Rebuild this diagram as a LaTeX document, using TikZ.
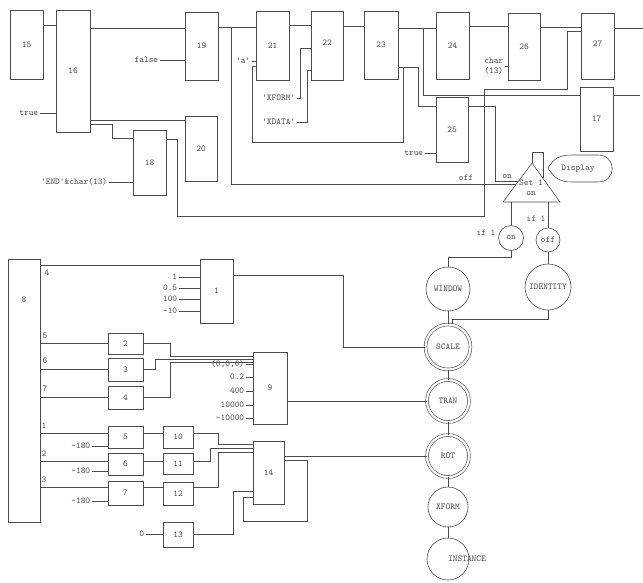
\documentclass[tikz,border=0pt]{standalone}
\usepackage{tikz}
\begin{document}
\begin{tikzpicture}[x=1pt,y=-1pt,line width=0.6pt,color=black!70,
  font=\fontsize{9}{10}\selectfont\ttfamily,
  blk/.style={draw,rectangle,inner sep=0pt},
  cst/.style={inner sep=1.5pt},
  st/.style={draw,circle,inner sep=0pt},
  dst/.style={st,double,double distance=2.2pt}]
\useasboundingbox (0,0) rectangle (643,582);

\node[blk,minimum width=33,minimum height=69] (b15) at (26.5,44.5) {15};
\node[blk,minimum width=34,minimum height=122] (b16) at (73,71) {16};
\node[blk,minimum width=33,minimum height=68] (b19) at (201.5,46) {19};
\node[blk,minimum width=32,minimum height=65] (b20) at (201,148.5) {20};
\node[blk,minimum width=33,minimum height=65] (b18) at (149.5,162.5) {18};
\node[blk,minimum width=33,minimum height=69] (b21) at (272.5,45.5) {21};
\node[blk,minimum width=32,minimum height=69] (b22) at (327,45.5) {\raisebox{6pt}{22}};
\node[blk,minimum width=34,minimum height=68] (b23) at (381,45) {23};
\node[blk,minimum width=33,minimum height=67] (b24) at (452.5,45.5) {24};
\node[blk,minimum width=32,minimum height=67] (b26) at (524,46.5) {26};
\node[blk,minimum width=33,minimum height=66] (b27) at (597.5,46) {\raisebox{4pt}{27}};
\node[blk,minimum width=33,minimum height=64] (b17) at (596.5,119) {17};
\node[blk,minimum width=32,minimum height=65] (b25) at (452,129.5) {25};

\node[cst,anchor=east] (ktrue) at (40,113) {true};
\node[cst,anchor=east] (kfalse) at (160,60) {false};
\node[cst,anchor=east] (kend) at (109,182) {\textquotesingle END\textquotesingle\&char(13)};
\node[cst,anchor=east] (ka) at (252,61) {\textquotesingle a\textquotesingle};
\node[cst,anchor=east] (kxform) at (297,98) {\textquotesingle XFORM\textquotesingle};
\node[cst,anchor=east] (kxdata) at (297,122) {\textquotesingle XDATA\textquotesingle};
\node[cst,anchor=east,align=right] (kchar) at (505,66) {char\\(13)};
\node[cst,anchor=east] (ktrue2) at (425,153) {true};

\draw (532,163) -- (503,202) -- (560,202) -- cycle;
\draw (532,163) -- (532,152) -- (543,152) -- (543,178);
\draw (548,168) .. controls (554,158) and (560,155) .. (572,155) -- (598,155)
  .. controls (617,155) and (617,182) .. (598,182) -- (572,182)
  .. controls (560,182) and (554,178) .. (548,168);
\node (disp) at (578,169) {Display};
\node[align=center,inner sep=0pt] (set1) at (531,188) {Set 1\\on};
\coordinate (inoff) at (516,184);
\coordinate (inon) at (518,181);
\coordinate (outon) at (511,202);
\coordinate (outoff) at (548,202);
\coordinate (out17) at (640,95);
\coordinate (out27) at (643,28);

\draw (b15.east |- 0,25) -- (b16.west |- 0,25);
\draw (ktrue) -- (b16.west |- ktrue);
\draw (b16.east |- 0,28) -- (b19.west |- 0,28);
\draw (kfalse) -- (b19.west |- kfalse);
\draw (b16.east |- 0,120) -- (b20.west |- 0,120);
\draw (b16.east |- 0,124) -| (112,138) -- (b18.west |- 0,138);
\draw (kend) -- (b18.west |- kend);
\draw (b18.east |- 0,139) -| (177,216) -| (484,89) -| (567,31) -- (b27.west |- 0,31);
\draw (b19.east |- 0,27) -- (b21.west |- 0,27);
\draw (231,27) |- (inoff);
\node (loff) at (466,178) {off};
\draw (ka) -- (b21.west |- ka);
\draw (b21.east |- 0,25) -- (b22.west |- 0,25);
\draw (kxform.east) -| (300,48) -- (b22.west |- 0,48);
\draw (kxdata.east) -| (307,70) -- (b22.west |- 0,70);
\draw (b22.east |- 0,26) -- (b23.west |- 0,26);
\draw (b23.east |- 0,28) -- (b24.west |- 0,28);
\draw (423,28) |- (b17.west |- 0,95);
\draw (b17.east |- 0,95) -- (out17);
\draw (b23.east |- 0,67) -| (418,106) -- (b25.west |- 0,106);
\draw (403,67) |- (252,142) |- (b21.west |- 0,66);
\draw (b24.east |- 0,26) -- (b26.west |- 0,26);
\draw (kchar) -- (b26.west |- kchar);
\draw (b26.east |- 0,27) -- (b27.west |- 0,27);
\draw (b27.east |- 0,28) -- (out27);
\draw (ktrue2) -- (b25.west |- ktrue2);
\draw (b25.east |- 0,106) -| (495,181) -- (inon);
\node (lon) at (507,177) {on};

\node[st,minimum size=25] (on) at (511,238) {on};
\node[st,minimum size=24] (off) at (548,240) {off};
\node (lif1) at (486,233) {if 1};
\node (lif2) at (536,219) {if 1};
\draw (outon) -- (on.north);
\draw (outoff) -- (off.north);
\node[st,minimum size=44] (win) at (448,289) {WINDOW};
\node[st,minimum size=46] (ident) at (548,287) {IDENTITY};
\draw (on.south) -- ++(0,6) -| (win.north);
\draw (off) -- (ident);
\node[dst,minimum size=45] (scale) at (448,347) {SCALE};
\node[dst,minimum size=42] (tran) at (448,401) {TRAN};
\node[dst,minimum size=42] (rot) at (448,456) {ROT};
\node[st,minimum size=40] (xform) at (448,507) {XFORM};
\node[st,minimum size=42,label={[xshift=19pt]center:INSTANCE}] (inst) at (448,559) {};
\draw (win) -- (scale);
\draw (ident.south) -- ++(0,9) -| ([xshift=4pt]scale.north);
\draw (scale) -- (tran);
\draw (tran) -- (rot);
\draw (rot) -- (xform);
\draw (xform) -- (inst);

\node[blk,minimum width=32,minimum height=263,label={[yshift=-48pt]north:8}] (b8) at (24,390.5) {};
\node[blk,minimum width=33,minimum height=64] (b1) at (216.5,291) {1};
\node[blk,minimum width=35,minimum height=21] (b2) at (125.5,343.5) {2};
\node[blk,minimum width=35,minimum height=23] (b3) at (125.5,369.5) {3};
\node[blk,minimum width=35,minimum height=23] (b4) at (125.5,397.5) {4};
\node[blk,minimum width=34,minimum height=72] (b9) at (270,388) {9};
\node[blk,minimum width=35,minimum height=22] (b5) at (125.5,437) {5};
\node[blk,minimum width=35,minimum height=22] (b6) at (125.5,464) {6};
\node[blk,minimum width=35,minimum height=24] (b7) at (125.5,493) {7};
\node[blk,minimum width=30,minimum height=22] (b10) at (178,437) {10};
\node[blk,minimum width=30,minimum height=21] (b11) at (178,463.5) {11};
\node[blk,minimum width=30,minimum height=23] (b12) at (178,493.5) {12};
\node[blk,minimum width=30,minimum height=25] (b13) at (178,534.5) {13};
\node[blk,minimum width=31,minimum height=63] (b14) at (268.5,472.5) {14};

\node (o4) at (47,273) {4};
\node (o5) at (45,336) {5};
\node (o6) at (45,361) {6};
\node (o7) at (45,389) {7};
\node (o1) at (44,426) {1};
\node (o2) at (44,454) {2};
\node (o3) at (44,480) {3};

\draw (b8.east |- 0,265) -- (b1.west |- 0,265);
\draw (b8.east |- b2) -- (b2.west);
\draw (b8.east |- b3) -- (b3.west);
\draw (b8.east |- b4) -- (b4.west);
\draw (b8.east |- 0,433) -- (b5.west |- 0,433);
\draw (b8.east |- 0,461) -- (b6.west |- 0,461);
\draw (b8.east |- 0,487) -- (b7.west |- 0,487);

\node[cst,anchor=east] (kone) at (179,277) {1};
\node[cst,anchor=east] (khalf) at (179,288) {0.5};
\node[cst,anchor=east] (khun) at (179,299) {100};
\node[cst,anchor=east] (kten) at (179,311) {-10};
\draw (kone) -- (b1.west |- kone);
\draw (khalf) -- (b1.west |- khalf);
\draw (khun) -- (b1.west |- khun);
\draw (kten) -- (b1.west |- kten);
\draw (b1.east |- 0,275) -| (343,347) -- (scale.west);

\node[cst,anchor=east] (korg) at (246,364) {(0,0,0)};
\node[cst,anchor=east] (kfrac) at (246,377) {0.2};
\node[cst,anchor=east] (kfour) at (246,391) {400};
\node[cst,anchor=east] (kbig) at (246,405) {10000};
\node[cst,anchor=east] (knbig) at (246,418) {-10000};
\draw (korg) -- (b9.west |- korg);
\draw (kfrac) -- (b9.west |- kfrac);
\draw (kfour) -- (b9.west |- kfour);
\draw (kbig) -- (b9.west |- kbig);
\draw (knbig) -- (b9.west |- knbig);
\draw (b2.east) -| (170,356) -- (b9.west |- 0,356);
\draw (b3.east) -| (155,359) -- (b9.west |- 0,359);
\draw (b4.east) -| (170,362) -- (b9.west |- 0,362);
\draw (b9.east |- tran) -- (tran.west);

\node[cst,anchor=east] (kma) at (92,446) {-180};
\node[cst,anchor=east] (kmb) at (92,471) {-180};
\node[cst,anchor=east] (kmc) at (92,501) {-180};
\node[cst,anchor=east] (kzero) at (146,534) {0};
\draw (kma) -- (b5.west |- kma);
\draw (kmb) -- (b6.west |- kmb);
\draw (kmc) -- (b7.west |- kmc);
\draw (kzero) -- (b13.west |- kzero);
\draw (b5.east |- 0,433) -- (b10.west |- 0,433);
\draw (b6.east |- 0,461) -- (b11.west |- 0,461);
\draw (b7.east |- 0,487) -- (b12.west |- 0,487);
\draw (b10.east |- 0,433) -| (218,444) -- (b14.west |- 0,444);
\draw (b11.east |- 0,461) -| (210,448) -- (b14.west |- 0,448);
\draw (b12.east |- 0,487) -| (218,452) -- (b14.west |- 0,452);
\draw (b13.east) -| (233,491) -- (b14.west |- 0,491);
\draw (b14.east |- rot) -- (rot.west);
\draw (b14.east |- 0,460) -| (307,521) -| (243,497) -- (b14.west |- 0,497);
\end{tikzpicture}
\end{document}
